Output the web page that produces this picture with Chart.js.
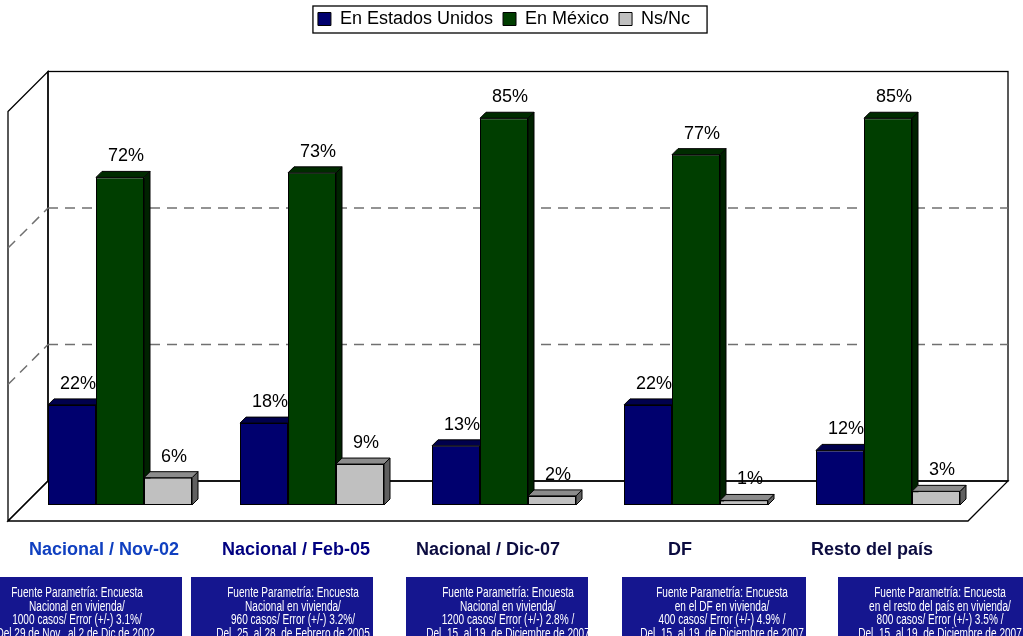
<!DOCTYPE html>
<html>
<head>
<meta charset="utf-8">
<script src="https://cdn.jsdelivr.net/npm/chart.js@4.4.0/dist/chart.umd.min.js"></script>
<style>
html,body{margin:0;padding:0;background:#fff}
#wrap{width:1023px;height:636px}
</style>
</head>
<body>
<div id="wrap"><canvas id="myBar"></canvas></div>
<script>
var categories = ["Nacional / Nov-02", "Nacional / Feb-05", "Nacional / Dic-07", "DF", "Resto del país"];
var enEU = [22, 18, 13, 22, 12];
var enMX = [72, 73, 85, 77, 85];
var nsnc = [6, 9, 2, 1, 3];
var yTicks = [0, 30, 60, 90];
var catColors = ["#1040c0", "#000080", "#0c0c40", "#0c0c40", "#0c0c40"];
var notes = [
  ["Fuente Parametría: Encuesta", "Nacional en vivienda/", "1000 casos/ Error (+/-) 3.1%/", "Del 29 de Nov.  al 2 de Dic de 2002."],
  ["Fuente Parametría: Encuesta", "Nacional en vivienda/", "960 casos/ Error (+/-) 3.2%/", "Del  25  al 28  de Febrero de 2005"],
  ["Fuente Parametría: Encuesta", "Nacional en vivienda/", "1200 casos/ Error (+/-) 2.8% /", "Del  15  al 19  de Diciembre de 2007"],
  ["Fuente Parametría: Encuesta", "en el DF en vivienda/", "400 casos/ Error (+/-) 4.9% /", "Del  15  al 19  de Diciembre de 2007"],
  ["Fuente Parametría: Encuesta", "en el resto del país en vivienda/", "800 casos/ Error (+/-) 3.5% /", "Del  15  al 19  de Diciembre de 2007"]
];
// note boxes: x, width, text center
var noteBoxes = [[-30, 212, 77], [191, 182, 293], [406, 182, 508], [622, 184, 722], [838, 200, 940]];

// front, top, side colours per series
var shades = [
  ["#00006e", "#00004c", "#000040"],
  ["#003e00", "#002c00", "#002200"],
  ["#c0c0c0", "#8c8c8c", "#606060"]
];

var BACK = 24, FRONT = 16, DEPTH = 6;

var box3d = {
  id: "box3d",
  beforeDatasetsDraw: function(chart) {
    var c = chart.ctx, a = chart.chartArea, y = chart.scales.y;
    var y0 = y.getPixelForValue(yTicks[0]);
    var yT = y.getPixelForValue(yTicks[yTicks.length - 1]);
    c.save();
    c.strokeStyle = "#000";
    c.lineWidth = 1.3;
    // back wall
    c.strokeRect(a.left + BACK, yT - BACK, a.right - a.left, y0 - yT);
    // left wall
    c.beginPath();
    c.moveTo(a.left - FRONT, yT + FRONT);
    c.lineTo(a.left + BACK, yT - BACK);
    c.lineTo(a.left + BACK, y0 - BACK);
    c.lineTo(a.left - FRONT, y0 + FRONT);
    c.closePath();
    c.stroke();
    // floor
    c.beginPath();
    c.moveTo(a.left - FRONT, y0 + FRONT);
    c.lineTo(a.left + BACK, y0 - BACK);
    c.lineTo(a.right + BACK, y0 - BACK);
    c.lineTo(a.right - FRONT, y0 + FRONT);
    c.closePath();
    c.stroke();
    // dashed gridlines
    c.strokeStyle = "#707070";
    c.lineWidth = 1.5;
    c.setLineDash([10, 7]);
    yTicks.slice(1, -1).forEach(function(v) {
      var py = y.getPixelForValue(v);
      c.beginPath();
      c.moveTo(a.left + BACK, py - BACK);
      c.lineTo(a.right + BACK, py - BACK);
      c.stroke();
      c.beginPath();
      c.moveTo(a.left - FRONT, py + FRONT);
      c.lineTo(a.left + BACK, py - BACK);
      c.stroke();
    });
    c.setLineDash([]);
    // tops and sides of the bars, left to right
    c.strokeStyle = "#000";
    c.lineWidth = 1;
    for (var i = 0; i < categories.length; i++) {
      for (var d = 0; d < chart.data.datasets.length; d++) {
        var bar = chart.getDatasetMeta(d).data[i];
        var x1 = bar.x - bar.width / 2, x2 = bar.x + bar.width / 2;
        var top = bar.y, base = bar.base;
        c.fillStyle = shades[d][2];
        c.beginPath();
        c.moveTo(x2, top); c.lineTo(x2 + DEPTH, top - DEPTH);
        c.lineTo(x2 + DEPTH, base - DEPTH); c.lineTo(x2, base);
        c.closePath(); c.fill(); c.stroke();
        c.fillStyle = shades[d][1];
        c.beginPath();
        c.moveTo(x1, top); c.lineTo(x1 + DEPTH, top - DEPTH);
        c.lineTo(x2 + DEPTH, top - DEPTH); c.lineTo(x2, top);
        c.closePath(); c.fill(); c.stroke();
      }
    }
    c.restore();
  },
  afterDatasetsDraw: function(chart) {
    var c = chart.ctx;
    c.save();
    c.font = "18px Arial, 'Liberation Sans'";
    c.fillStyle = "#000";
    c.textAlign = "center";
    c.textBaseline = "alphabetic";
    chart.data.datasets.forEach(function(ds, d) {
      chart.getDatasetMeta(d).data.forEach(function(bar, i) {
        c.fillText(ds.data[i] + "%", bar.x + 6, bar.y - 16);
      });
    });
    c.restore();
  },
  afterDraw: function(chart) {
    var c = chart.ctx;
    c.save();
    // legend frame
    var hb = chart.legend.legendHitBoxes;
    if (hb && hb.length) {
      var last = hb[hb.length - 1];
      var l = hb[0].left - 5, r = last.left + last.width + 17;
      c.strokeStyle = "#000";
      c.lineWidth = 1.3;
      c.strokeRect(l, 6, r - l, 27);
    }
    // source notes
    noteBoxes.forEach(function(b, i) {
      c.fillStyle = "#15168f";
      c.fillRect(b[0], 577, b[1], 70);
      c.fillStyle = "#fff";
      c.font = "14px Arial, 'Liberation Sans'";
      c.textAlign = "center";
      notes[i].forEach(function(line, k) {
        c.save();
        c.translate(b[2], 593 + k * 13.8);
        c.scale(0.72, 1);
        c.fillText(line, 0, 0);
        c.restore();
      });
    });
    c.restore();
  }
};

var ctx = document.getElementById("myBar");
var barChart = new Chart(ctx, {
  type: "bar",
  data: {
    labels: categories,
    datasets: [{
      label: "En Estados Unidos",
      backgroundColor: shades[0][0],
      borderColor: "#000",
      borderWidth: 1,
      borderSkipped: false,
      data: enEU
    }, {
      label: "En México",
      backgroundColor: shades[1][0],
      borderColor: "#000",
      borderWidth: 1,
      borderSkipped: false,
      data: enMX
    }, {
      label: "Ns/Nc",
      backgroundColor: shades[2][0],
      borderColor: "#000",
      borderWidth: 1,
      borderSkipped: false,
      data: nsnc
    }]
  },
  options: {
    responsive: true,
    maintainAspectRatio: false,
    animation: false,
    layout: { padding: { left: 24, right: 39, top: 0, bottom: 0 } },
    categoryPercentage: 0.75,
    barPercentage: 1,
    plugins: {
      tooltip: { enabled: false },
      legend: {
        position: "top",
        labels: {
          boxWidth: 13,
          boxHeight: 13,
          padding: 10,
          color: "#000",
          font: { family: "Arial, 'Liberation Sans'", size: 18 }
        }
      }
    },
    scales: {
      x: {
        position: "bottom",
        grid: { display: false },
        border: { display: false },
        ticks: {
          autoSkip: false,
          maxRotation: 0,
          labelOffset: -16,
          padding: 26,
          color: function(c) { return catColors[c.index]; },
          font: { family: "Arial, 'Liberation Sans'", size: 18, weight: "bold" }
        },
        afterFit: function(s) { s.height = 131; }
      },
      x2: {
        type: "category",
        position: "top",
        grid: { display: false },
        border: { display: false },
        ticks: { display: false },
        afterFit: function(s) { s.height = 57.5; }
      },
      y: {
        display: false,
        min: yTicks[0],
        max: yTicks[yTicks.length - 1],
        ticks: { stepSize: 30 }
      }
    }
  },
  plugins: [box3d]
});
</script>
</body>
</html>
